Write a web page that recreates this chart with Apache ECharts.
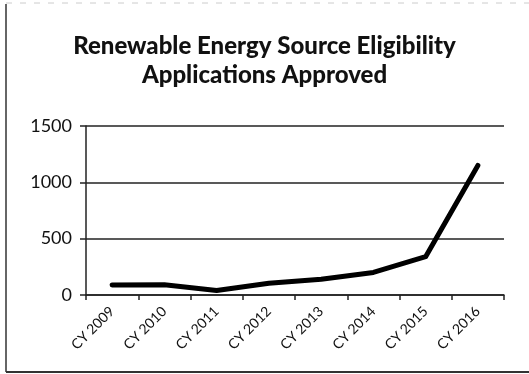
<!DOCTYPE html>
<html>
<head>
<meta charset="utf-8">
<script src="https://cdn.jsdelivr.net/npm/echarts@6/dist/echarts.min.js"></script>
<style>
  html, body { margin: 0; padding: 0; background: #fff; }
  #chart { width: 529px; height: 374px; }
</style>
</head>
<body>
<div id="chart"></div>
<script>
// values
const years = ["CY 2009", "CY 2010", "CY 2011", "CY 2012", "CY 2013", "CY 2014", "CY 2015", "CY 2016"];
const approved = [88, 90, 40, 105, 140, 200, 340, 1150];
const yTicks = [0, 500, 1000, 1500];

const chart = echarts.init(document.getElementById("chart"));

const option = {
  backgroundColor: "#ffffff",
  animation: false,
  title: {
    text: "Renewable Energy Source Eligibility\nApplications Approved",
    left: "center",
    top: 27,
    textStyle: {
      fontFamily: "Lato",
      fontWeight: 900,
      fontSize: 24,
      lineHeight: 29,
      color: "#111",
    },
  },
  grid: {
    left: 86,
    right: 25,
    top: 126,
    bottom: 79,
  },
  xAxis: {
    type: "category",
    data: years,
    boundaryGap: true,
    axisLine: { lineStyle: { color: "#222", width: 1.5 } },
    axisTick: { show: true, length: 5, lineStyle: { color: "#222", width: 1.5 } },
    axisLabel: {
      rotate: 45,
      margin: 14,
      color: "#111",
      fontFamily: "Lato",
      fontSize: 14,
    },
  },
  yAxis: {
    type: "value",
    min: yTicks[0],
    max: yTicks[yTicks.length - 1],
    interval: 500,
    axisLine: { show: true, lineStyle: { color: "#222", width: 1.5 } },
    axisTick: { show: true, length: 6, lineStyle: { color: "#222", width: 1.5 } },
    axisLabel: {
      margin: 14,
      color: "#111",
      fontFamily: "Lato",
      fontSize: 18,
      formatter: (v) => String(v),
    },
    splitLine: { lineStyle: { color: "#222", width: 1.5 } },
  },
  series: [
    {
      name: "Applications Approved",
      type: "line",
      data: approved,
      symbol: "none",
      smooth: false,
      lineStyle: { color: "#000", width: 5, cap: "round", join: "round" },
    },
  ],
  graphic: [
    {
      type: "line",
      shape: { x1: 6, y1: 4, x2: 6, y2: 372 },
      style: { stroke: "#333", lineWidth: 1.5 },
    },
    {
      type: "line",
      shape: { x1: 6, y1: 372, x2: 529, y2: 372 },
      style: { stroke: "#333", lineWidth: 2 },
    },
    {
      type: "line",
      shape: { x1: 6, y1: 3, x2: 529, y2: 3 },
      style: { stroke: "#ccc", lineWidth: 1, lineDash: [6, 8] },
    },
  ],
};

chart.setOption(option);
</script>
</body>
</html>
